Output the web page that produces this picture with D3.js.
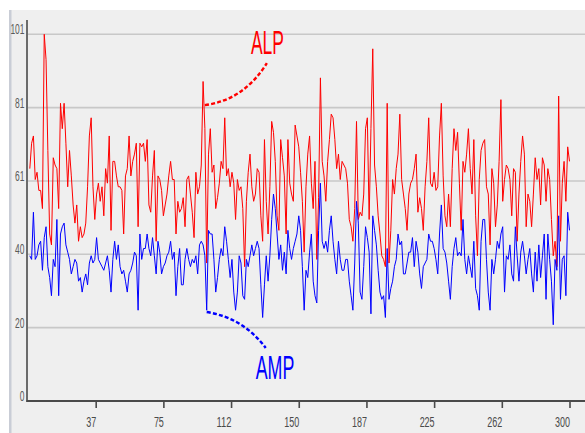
<!DOCTYPE html>
<html>
<head>
<meta charset="utf-8">
<script src="https://cdn.jsdelivr.net/npm/d3@7/dist/d3.min.js"></script>
<style>
html,body{margin:0;padding:0;background:#ffffff;}
svg{display:block;}
</style>
</head>
<body>
<svg id="chart" width="585" height="433"></svg>
<script>
// ---- data ----
const seriesNames = ["ALP", "AMP"];
const seriesColors = ["#ff0000", "#0000ff"];
const alpValues = [
64,71,73,61,63,58,58,53,101,94,69,46,43,67,65,64,53,82,75,82,71,59,69,62,54,49,54,44,48,45,46,49,59,73,78,59,50,57,60,55,59,51,
64,60,73,47,66,66,62,59,59,58,46,62,64,73,62,66,68,71,48,71,70,71,66,72,54,52,62,69,44,62,61,58,51,54,57,62,66,61,61,46,55,52,53,
56,48,61,62,57,52,45,63,57,59,65,88,75,38,68,75,63,65,53,56,60,66,64,78,62,64,59,63,60,50,61,58,59,53,37,55,63,68,59,55,57,64,63,
51,44,72,55,46,59,77,74,66,51,47,72,67,62,46,72,60,57,55,76,73,70,63,55,41,59,68,73,60,53,66,39,56,89,66,62,55,66,72,79,78,72,64,
68,61,66,65,64,60,50,48,44,53,77,50,52,51,57,75,78,50,75,97,65,59,51,46,40,39,37,82,38,47,61,57,64,68,79,61,57,53,47,57,60,61,64,68,
52,56,53,47,59,66,78,60,59,63,58,59,73,82,62,51,48,57,48,64,75,69,74,60,47,66,63,68,75,64,57,72,51,40,61,69,71,72,59,57,43,64,60,
48,54,66,83,55,61,65,64,61,51,64,63,44,57,66,73,68,48,57,55,48,57,67,61,64,54,67,65,55,64,61,50,40,44,37,84,44,60,66,55,70,66
];
const ampValues = [
40,39,52,39,40,43,44,36,45,48,37,34,29,39,37,50,29,46,48,49,43,41,39,35,37,39,38,33,34,30,33,35,32,38,40,38,39,45,39,38,37,36,
38,40,36,30,39,44,39,43,37,35,36,33,30,35,36,38,41,40,25,46,39,42,42,46,42,40,45,40,35,44,41,35,37,38,40,41,44,39,41,29,37,42,32,
32,39,42,39,37,39,38,40,35,43,44,43,40,25,47,46,46,39,30,34,39,42,40,48,44,39,34,39,30,25,30,40,38,29,28,39,37,40,43,40,42,44,42,
32,23,32,40,33,40,50,57,53,46,39,43,36,41,35,47,42,39,42,44,46,51,47,37,25,36,34,41,46,33,29,27,47,60,44,42,44,41,47,51,44,39,35,
44,39,36,36,39,39,33,29,25,38,55,49,30,28,37,48,45,41,24,51,47,43,36,30,28,29,23,42,28,31,33,37,39,46,43,44,35,35,38,41,41,45,37,44,
41,35,31,37,38,39,46,44,44,42,39,35,46,54,42,41,38,33,28,37,42,45,40,41,40,50,39,35,40,37,34,44,31,29,25,44,50,50,39,30,25,39,35,
39,44,42,46,48,30,40,39,43,35,33,48,40,33,41,44,40,35,39,42,35,30,41,33,43,34,40,46,28,46,39,33,21,39,36,51,28,39,40,29,52,47
];
const yTickValues = [0, 20.2, 40.4, 60.6, 80.8, 101];
const yTickLabels = ["0", "20", "40", "61", "81", "101"];
const xTickValues = [37.5, 75, 112.5, 150, 187.5, 225, 262.5, 300];
const xTickLabels = ["37", "75", "112", "150", "187", "225", "262", "300"];
// annotation anchors in data space (index, value)
const annotationLabels = ["ALP", "AMP"];
const annotationAnchors = [[98, 81.5], [99, 24.5]];

// ---- layout ----
const W = 585, H = 433;
const FONT = "'Liberation Sans Narrow','Liberation Sans',Arial,sans-serif";
const svg = d3.select("#chart");

const x = d3.scaleLinear().domain([0, 300]).range([28, 569.5]);
const y = d3.scaleLinear().domain([0, 101]).range([401, 34.3]);

// panel background
svg.append("rect").attr("x", 10).attr("y", 10).attr("width", W - 10).attr("height", H - 10).attr("fill", "#efefef");
svg.append("rect").attr("x", 9).attr("y", 10).attr("width", 2.5).attr("height", H - 10).attr("fill", "#c9cdd6");

// gridlines
svg.append("g").selectAll("line").data(yTickValues.slice(1)).join("line")
  .attr("x1", 28).attr("x2", W)
  .attr("y1", d => y(d)).attr("y2", d => y(d))
  .attr("stroke", "#c8c8c8").attr("stroke-width", 1.6);

// y labels
function fittedText(g, txt, px, py, anchor, perChar, size, color) {
  const w = perChar * txt.length;
  let x0 = px;
  if (anchor === "end") x0 = px - w;
  else if (anchor === "middle") x0 = px - w / 2;
  return g.append("text").attr("x", x0).attr("y", py)
    .attr("textLength", w).attr("lengthAdjust", "spacingAndGlyphs")
    .attr("font-family", FONT).attr("font-size", size)
    .attr("fill", color).text(txt);
}
const yl = svg.append("g");
yTickValues.forEach((v, i) => fittedText(yl, yTickLabels[i], 24.5, y(v), "end", 4.7, 14, "#5a5a5a"));

// series lines
const line = d3.line().x((d, i) => x(i + 1)).y(d => y(d));
[alpValues, ampValues].forEach((vals, s) => {
  svg.append("path").datum(vals)
    .attr("d", line)
    .attr("fill", "none")
    .attr("stroke", seriesColors[s])
    .attr("stroke-width", 1)
    .attr("stroke-linejoin", "miter");
});

// axes
const xAxis = d3.axisBottom(x).tickValues(xTickValues).tickSize(7).tickFormat((d, i) => xTickLabels[i]);
const xg = svg.append("g").attr("transform", "translate(0,401)").call(xAxis);
xg.select(".domain").remove();
xg.selectAll(".tick line").attr("stroke", "#4a4a4a").attr("stroke-width", 1.6);
xg.selectAll(".tick text").remove();
xg.selectAll(".tick").each(function(d, i) {
  fittedText(d3.select(this), xTickLabels[i], 0, 25.5, "middle", 5, 14, "#4a4a4a");
});
svg.append("line").attr("x1", 26.5).attr("x2", W).attr("y1", 401).attr("y2", 401)
  .attr("stroke", "#4a4a4a").attr("stroke-width", 2);
svg.append("line").attr("x1", 27).attr("x2", 27).attr("y1", 20).attr("y2", 402)
  .attr("stroke", "#4a4a4a").attr("stroke-width", 1.6);

// annotations
const annCfg = [
  {end: [62, -42], ctrl: [39, -5], text: [46, -51], width: 33},
  {end: [59, 36], ctrl: [37, 6], text: [49, 67], width: 38.6}
];
annotationLabels.forEach((lab, i) => {
  const ax = x(annotationAnchors[i][0]), ay = y(annotationAnchors[i][1]);
  const c = annCfg[i];
  const p = d3.path();
  p.moveTo(ax, ay);
  p.quadraticCurveTo(ax + c.ctrl[0], ay + c.ctrl[1], ax + c.end[0], ay + c.end[1]);
  svg.append("path").attr("d", p.toString()).attr("fill", "none")
    .attr("stroke", seriesColors[i]).attr("stroke-width", 2.4)
    .attr("stroke-dasharray", "4,2.2");
  fittedText(svg, lab, ax + c.text[0], ay + c.text[1], "start", c.width / lab.length, 34, seriesColors[i]);
});
</script>
</body>
</html>
